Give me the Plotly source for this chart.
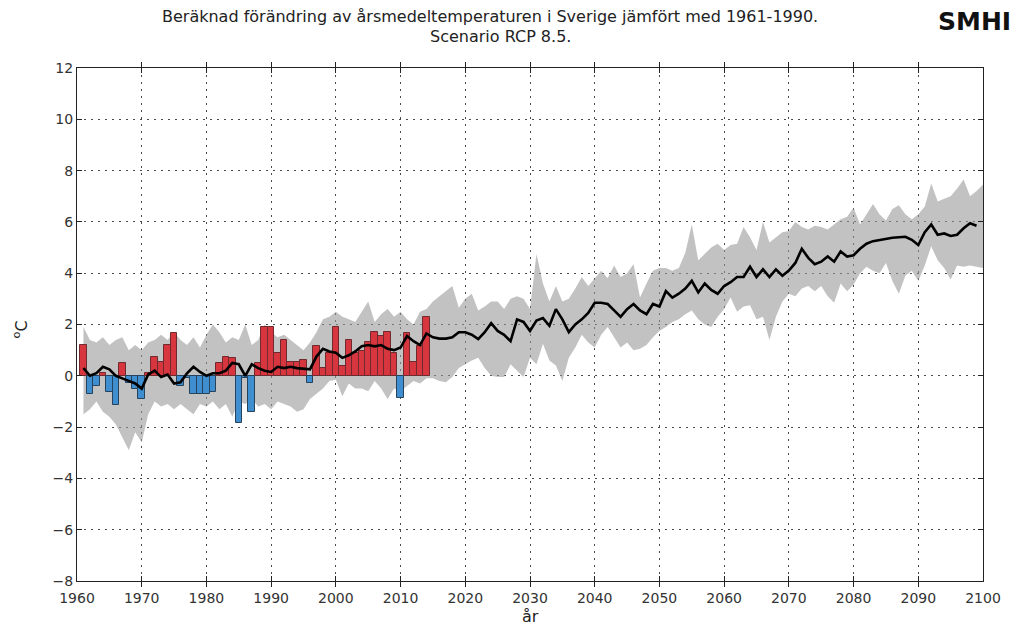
import plotly.graph_objects as go

# Observed annual anomalies (bars), 1961-2014
obs_years = list(range(1961, 2015))
obs_values = [1.2, -0.7, -0.4, 0.1, -0.65, -1.15, 0.5, -0.3, -0.5, -0.9,
              0.1, 0.75, 0.55, 1.2, 1.65, -0.4, -0.1, -0.7, -0.7, -0.7,
              -0.65, 0.5, 0.75, 0.7, -1.85, -0.1, -1.4, 0.5, 1.9, 1.9,
              0.9, 1.4, 0.55, 0.55, 0.6, -0.3, 1.15, 0.3, 0.9, 1.9,
              0.4, 1.4, 0.9, 0.95, 1.3, 1.7, 1.55, 1.7, 0.9, -0.85,
              1.65, 0.55, 1.15, 2.3]

# Ensemble mean, 1961-2099
mean_years = list(range(1961, 2100))
mean_values = [0.3, 0.0, 0.1, 0.35, 0.25, 0.0, -0.1, -0.2, -0.3, -0.5,
               0.05, 0.2, -0.05, 0.05, -0.3, -0.25, 0.1, 0.35, 0.15, 0.0,
               0.1, 0.1, 0.2, 0.5, 0.45, 0.0, 0.45, 0.3, 0.2, 0.15,
               0.35, 0.3, 0.35, 0.3, 0.28, 0.25, 0.75, 1.05, 0.95, 0.9,
               0.7, 0.8, 0.95, 1.15, 1.2, 1.15, 1.2, 1.05, 1.0, 1.1,
               1.55, 1.35, 1.2, 1.65, 1.5, 1.45, 1.45, 1.5, 1.7, 1.7,
               1.6, 1.43, 1.7, 2.05, 1.75, 1.6, 1.35, 2.2, 2.1, 1.75,
               2.15, 2.25, 1.95, 2.6, 2.2, 1.7, 2.0, 2.2, 2.45, 2.85,
               2.85, 2.8, 2.55, 2.3, 2.6, 2.8, 2.55, 2.4, 2.8, 2.7,
               3.3, 3.05, 3.2, 3.4, 3.7, 3.25, 3.6, 3.35, 3.2, 3.5,
               3.65, 3.85, 3.85, 4.25, 3.85, 4.15, 3.85, 4.15, 3.9, 4.1,
               4.4, 4.95, 4.6, 4.35, 4.45, 4.65, 4.45, 4.85, 4.65, 4.7,
               4.95, 5.15, 5.25, 5.3, 5.35, 5.38, 5.4, 5.42, 5.3, 5.1,
               5.6, 5.9, 5.5, 5.55, 5.45, 5.5, 5.75, 5.95, 5.85]

# Ensemble spread (min/max), 1961-2100
band_years = list(range(1961, 2101))
band_upper = [1.9, 1.4, 1.3, 1.5, 1.2, 1.4, 1.5, 1.0, 1.2, 1.0,
              1.3, 1.4, 1.6, 1.4, 1.7, 1.4, 1.2, 1.5, 1.1, 1.6,
              2.0, 1.7, 1.3, 1.5, 1.4, 2.0, 1.2, 1.4, 2.0, 1.7,
              1.5, 1.6, 1.4, 1.2, 1.0, 1.3, 1.7, 2.2, 2.3, 2.5,
              2.3, 2.2, 2.1, 2.5, 2.9, 2.1, 2.4, 2.6, 2.3, 2.5,
              2.2, 2.0, 2.5, 2.6, 2.9, 3.1, 3.3, 3.5, 2.65, 3.0,
              3.2, 2.55, 2.7, 2.9, 2.9, 2.6, 3.0, 3.1, 3.0, 2.6,
              4.75, 3.6, 2.9, 3.5, 2.9, 3.0, 3.4, 3.85, 3.5, 3.8,
              4.1, 3.8, 4.3, 3.85, 4.0, 4.35, 3.05, 3.6, 4.1, 4.2,
              4.2, 4.1, 4.2, 4.8, 5.9, 4.5, 4.75, 5.0, 5.15, 4.9,
              5.1, 5.15, 5.8, 5.4, 4.9, 6.0, 5.2, 5.4, 5.6, 5.65,
              6.0, 5.8, 5.7, 5.85, 5.8, 5.7, 5.9, 6.1, 6.2, 6.55,
              5.9, 6.3, 6.7, 6.3, 6.05, 6.5, 6.65, 6.3, 6.1, 6.3,
              6.6, 7.5, 6.8, 6.9, 7.0, 7.3, 7.65, 7.0, 7.2, 7.45]
band_lower = [-1.5, -1.3, -1.0, -1.4, -1.6, -1.9, -2.4, -2.9, -2.2, -2.6,
              -1.5, -1.0, -1.2, -1.1, -1.3, -1.1, -1.3, -1.5, -1.1, -1.2,
              -1.0, -1.3, -1.1, -1.6, -1.0, -1.1, -0.9, -1.2, -1.1, -1.3,
              -1.0, -1.1, -1.2, -1.4, -1.3, -0.9, -0.7, -0.5, -0.2, -0.15,
              -0.8, -0.3, -0.5, -0.5, -0.6, -0.2, -0.5, -0.9, -0.5, -0.6,
              -0.4, -0.2, -0.3, -0.1, -0.1, -0.2, -0.25, -0.05, 0.3, 0.45,
              0.6, 0.7, 0.3, 0.0, -0.05, -0.05, 0.45, 0.2, -0.05, 0.7,
              0.45, 1.25, 0.6, 0.4, -0.2, 0.7, 1.1, 1.6, 1.3, 1.1,
              1.6, 1.9, 1.5, 1.1, 1.3, 1.0, 1.05, 1.2, 1.5, 1.75,
              1.9, 2.1, 2.2, 2.4, 2.55, 2.2, 2.0, 1.9, 2.3, 2.6,
              3.05, 2.5, 2.7, 2.75, 2.2, 2.3, 1.4, 2.3, 2.9, 3.2,
              3.1, 3.4, 3.5, 3.3, 3.5, 3.1, 2.85, 3.6, 3.3, 3.55,
              4.0, 4.25, 4.1, 4.0, 4.4, 3.7, 3.2, 3.9, 4.1, 3.7,
              4.3, 5.05, 4.5, 4.2, 3.75, 4.3, 4.25, 4.3, 4.25, 4.2]

x_ticks = list(range(1960, 2101, 10))
y_ticks = list(range(-8, 13, 2))

title_line1 = "Beräknad förändring av årsmedeltemperaturen i Sverige jämfört med 1961-1990."
title_line2 = "Scenario RCP 8.5."

FONT = "DejaVu Sans, Liberation Sans, Arial, sans-serif"

bar_colors = ["#d8363f" if v >= 0 else "#3f8ed0" for v in obs_values]
bar_lines = ["#6e2a2e" if v >= 0 else "#26435e" for v in obs_values]

fig = go.Figure()
# band on the base axes (drawn first, underneath)
fig.add_trace(go.Scatter(x=band_years, y=band_upper, mode="lines",
                         line=dict(width=0, color="rgba(0,0,0,0)"),
                         hoverinfo="skip", showlegend=False))
fig.add_trace(go.Scatter(x=band_years, y=band_lower, mode="lines",
                         line=dict(width=0, color="rgba(0,0,0,0)"),
                         fill="tonexty", fillcolor="rgba(150,150,150,0.58)",
                         hoverinfo="skip", showlegend=False))
# bars and mean line on an overlaying y axis so they sit above the band
fig.add_trace(go.Bar(x=obs_years, y=obs_values, width=1, yaxis="y2",
                     marker=dict(color=bar_colors, opacity=1,
                                 line=dict(color=bar_lines, width=1)),
                     showlegend=False))
fig.add_trace(go.Scatter(x=mean_years, y=mean_values, mode="lines", yaxis="y2",
                         line=dict(color="black", width=2.6),
                         showlegend=False))

axis_common = dict(
    showline=True, linecolor="#222", linewidth=1, mirror="allticks",
    ticks="inside", ticklen=5, tickcolor="#222",
    showgrid=True, gridcolor="#4a4a4a", gridwidth=1, griddash="2px,5px",
    zeroline=False,
    tickfont=dict(family=FONT, size=14, color="#333"),
)

fig.update_xaxes(range=[1960, 2100], tickvals=x_ticks, ticklabelstandoff=4,
                 **axis_common)
fig.update_yaxes(range=[-8, 12], tickvals=y_ticks, **axis_common)

# Page body has an 8px default margin: figure sized/offset to compensate
fig.update_layout(
    width=1011, height=618, autosize=False,
    margin=dict(l=69, r=36, t=60, b=45),
    plot_bgcolor="white", paper_bgcolor="white",
    bargap=0,
    font=dict(family=FONT, color="#222"),
    yaxis2=dict(overlaying="y", range=[-8, 12], showgrid=False,
                showticklabels=False, zeroline=False, showline=False,
                ticks=""),
    annotations=[
        dict(text=title_line1, x=0.456, y=1.1, xref="paper", yref="paper",
             xanchor="center", yanchor="middle",
             showarrow=False, font=dict(size=16, family=FONT, color="#222")),
        dict(text=title_line2, x=0.467, y=1.062, xref="paper", yref="paper",
             xanchor="center", yanchor="middle",
             showarrow=False, font=dict(size=16, family=FONT, color="#222")),
        dict(text="<b>SMHI</b>", x=0.991, y=1.09, xref="paper", yref="paper",
             xanchor="center", yanchor="middle",
             showarrow=False, font=dict(size=25, family="DejaVu Sans", color="#111")),
        dict(text="år", x=0.5, y=-0.07, xref="paper", yref="paper",
             xanchor="center", yanchor="middle",
             showarrow=False, font=dict(size=16, family=FONT, color="#222")),
        dict(text="<sup>o</sup>C", x=-0.062, y=0.49, xref="paper", yref="paper",
             xanchor="center", yanchor="middle",
             showarrow=False, textangle=-90,
             font=dict(size=16, family=FONT, color="#222")),
    ],
)

fig.write_html("out.html")
